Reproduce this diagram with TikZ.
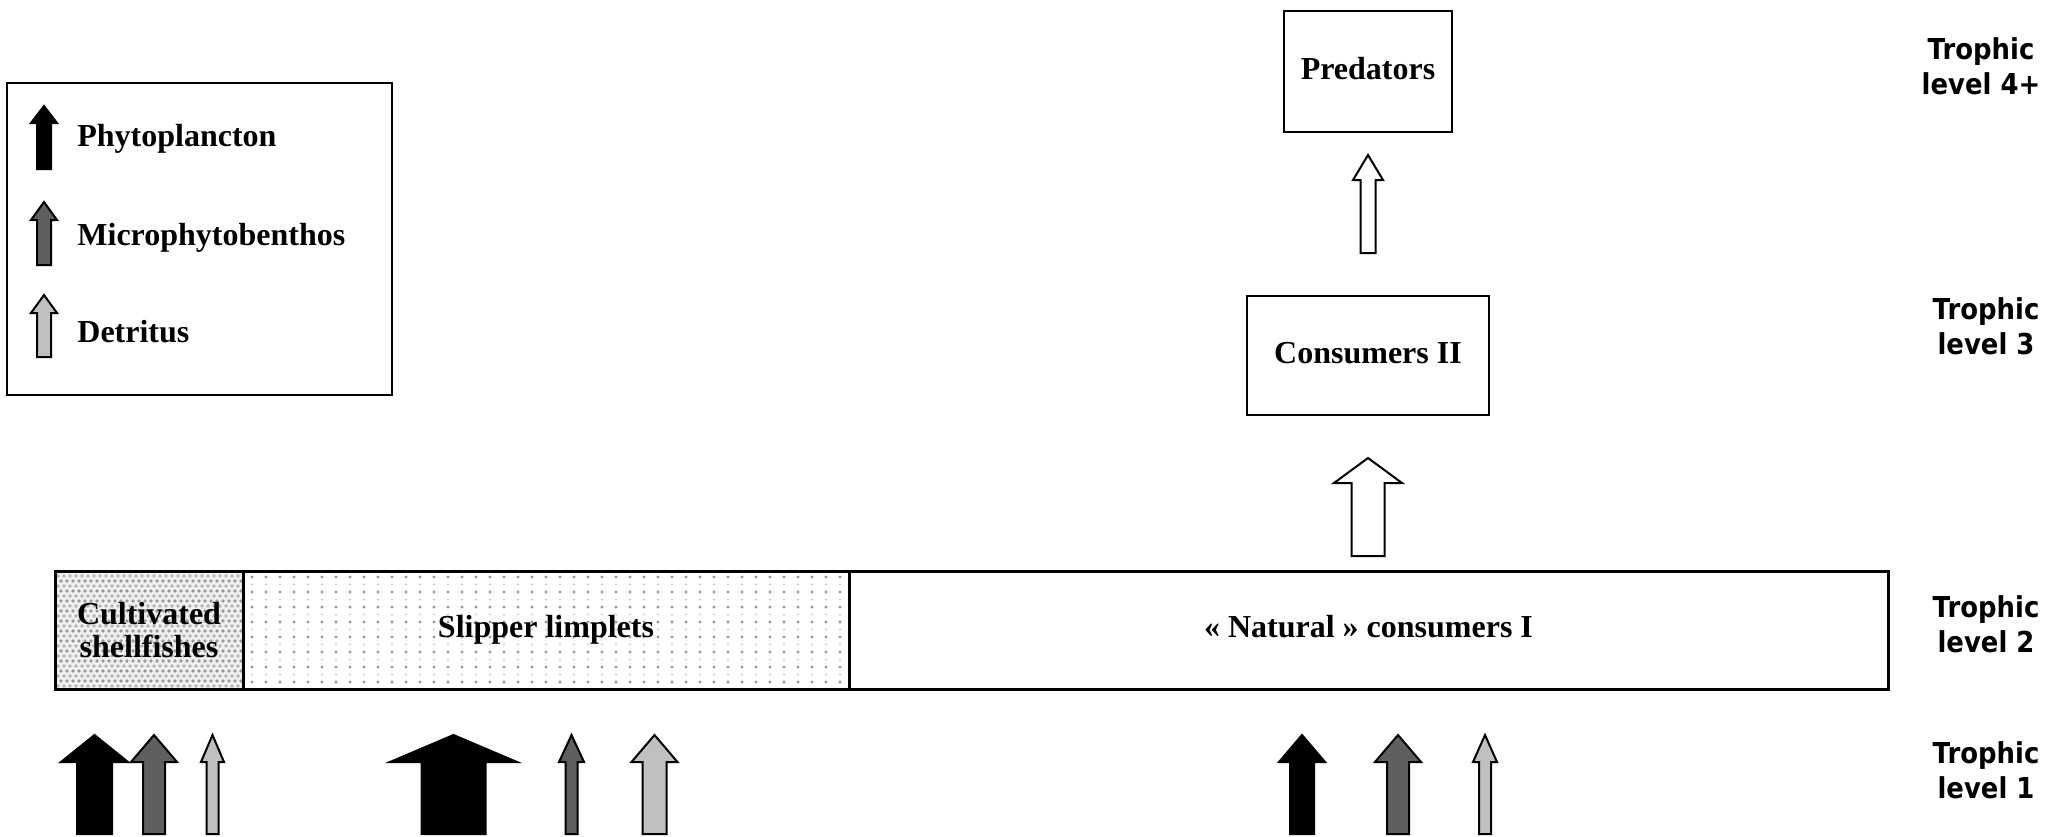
\documentclass[tikz,border=0pt]{standalone}
\usepackage{fontspec}
\setmainfont{Liberation Serif}
\newfontfamily\trofont[FakeStretch=0.9]{DejaVu Sans}
\definecolor{midgray}{HTML}{5F5F5F}
\definecolor{lightgray}{HTML}{C0C0C0}
\newcommand\blockarrow[7]{%
  \filldraw[arrline,fill=#1] ({#2-#6},#5) -- ({#2-#6},#4) -- ({#2-#7},#4) -- (#2,#3) -- ({#2+#7},#4) -- ({#2+#6},#4) -- ({#2+#6},#5) -- cycle;}
\begin{document}
\begin{tikzpicture}[x=0.5pt,y=-0.5pt,
  arrline/.style={draw=black,line width=1pt,line join=miter},
  box/.style={draw,line width=1pt,inner sep=0pt,outer sep=0pt,align=center,
    font=\bfseries\fontsize{16}{16.5}\selectfont},
  barbox/.style={box,line width=1.5pt,minimum height=59pt},
  leg/.style={anchor=base west,inner sep=0pt,font=\bfseries\fontsize{16}{19}\selectfont},
  tro/.style={anchor=base,inner sep=0pt,align=center,
    font=\trofont\bfseries\fontsize{14.4}{17.5}\selectfont}]
\useasboundingbox (0,0) rectangle (2067,836);

% textures of the level-2 bar
\begin{scope}
  \clip (55,571) rectangle (243,689);
  \fill[gray!12] (55,571) rectangle (243,689);
  \foreach \j in {0,...,24} {
    \foreach \i in {0,...,32} {
      \ifodd\j
        \fill[gray!60] ({52+\i*6},{571+\j*5}) circle (0.9pt);
      \else
        \fill[gray!80] ({55+\i*6},{571+\j*5}) circle (0.9pt);
      \fi
    }
  }
\end{scope}
\begin{scope}
  \clip (243,571) rectangle (849,689);
  \foreach \j in {0,...,15} {
    \foreach \i in {0,...,43} {
      \ifodd\j
        \fill[gray!40] ({252+\i*14},{577+\j*7.5}) circle (0.55pt);
      \else
        \fill[gray!80] ({252+\i*14},{577+\j*7.5}) circle (0.8pt);
      \fi
    }
  }
\end{scope}

% legend
\node[draw,line width=1pt,inner sep=0pt,outer sep=0pt,minimum width=192.5pt,minimum height=156pt] (legend) at (199.5,239) {};
\blockarrow{black}{44}{106}{123}{169}{7}{13}
\blockarrow{midgray}{44}{202}{220}{265}{7}{13}
\blockarrow{lightgray}{44}{295}{313}{357}{7}{13}
\node[leg] (lphy) at (77,146) {Phytoplancton};
\node[leg] (lmic) at (77,245) {Microphytobenthos};
\node[leg] (ldet) at (77,342) {Detritus};

% boxes
\node[box,minimum width=84pt,minimum height=60.5pt,text depth=3.5pt] (pred) at (1368,71.5) {Predators};
\node[box,minimum width=121pt,minimum height=59.5pt,text depth=3pt] (cons2) at (1368,355.5) {Consumers II};
\node[barbox,minimum width=94pt] (cult) at (149,630) {Cultivated\\shellfishes};
\node[barbox,minimum width=303pt] (slip) at (546,630) {Slipper limplets};
\node[barbox,minimum width=519.5pt,text height=11pt,text depth=3.3pt] (nat) at (1368.5,630) {« Natural » consumers I};

% flows between levels
\blockarrow{white}{1368}{155}{180}{253}{7.5}{15}
\blockarrow{white}{1368}{458}{483}{556}{16.5}{34}

% primary production arrows
\blockarrow{black}{94.5}{735}{762}{834}{17.5}{33.5}
\blockarrow{midgray}{154}{735}{762}{834}{11}{23}
\blockarrow{lightgray}{212.5}{735}{762}{834}{6}{11.5}
\blockarrow{black}{453.5}{735}{762}{834}{32}{63.5}
\blockarrow{midgray}{571.5}{735}{762}{834}{6}{12.5}
\blockarrow{lightgray}{654.5}{735}{762}{834}{12}{23}
\blockarrow{black}{1302}{735}{762}{834}{12}{23}
\blockarrow{midgray}{1398}{735}{762}{834}{11}{23}
\blockarrow{lightgray}{1485}{735}{762}{834}{6}{12}

% trophic levels
\node[tro] (t4) at (1981,94) {Trophic\\level 4+};
\node[tro] (t3) at (1986,354) {Trophic\\level 3};
\node[tro] (t2) at (1986,652) {Trophic\\level 2};
\node[tro] (t1) at (1986,798) {Trophic\\level 1};
\end{tikzpicture}
\end{document}
